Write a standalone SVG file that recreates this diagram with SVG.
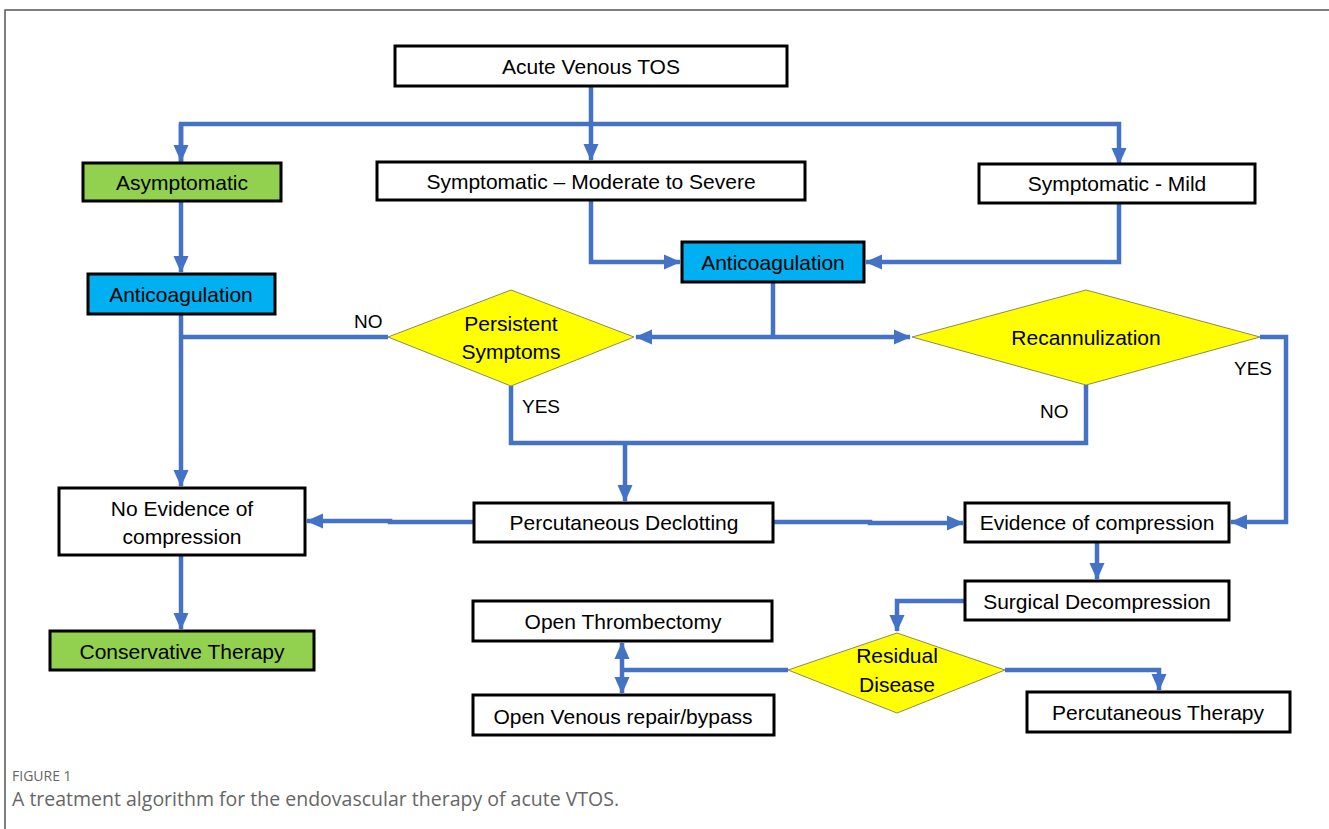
<svg xmlns="http://www.w3.org/2000/svg" width="1329" height="829" viewBox="0 0 1329 829">
<style>
.box{fill:#fff;stroke:#000;stroke-width:3}
.green{fill:#92D050}
.blue{fill:#00B0F0}
.dia{fill:#FFFF00;stroke:#8a8a60;stroke-width:1}
.t{font-family:"Liberation Sans",Arial,sans-serif;font-size:21px;fill:#000;text-anchor:middle}
.lbl{font-family:"Liberation Sans",Arial,sans-serif;font-size:19px;fill:#000}
.c{fill:none;stroke:#4472C4;stroke-width:4.5}
.cap{font-family:"Open Sans",sans-serif;fill:#666}
</style>
<defs>
<marker id="ah" markerUnits="userSpaceOnUse" markerWidth="18" markerHeight="18" viewBox="0 0 18 18" refX="16" refY="9" orient="auto-start-reverse">
<path d="M0,1.5 L17,9 L0,16.5 Z" fill="#4472C4"/>
</marker>
</defs>
<rect width="1329" height="829" fill="#fff"/>
<path d="M5,829 V10 H1329" fill="none" stroke="#555" stroke-width="1.5"/>

<g id="connectors">
<path class="c" d="M591,86 V160" marker-end="url(#ah)"/>
<path class="c" d="M181,163 V124 H1119 V164" marker-end="url(#ah)"/>
<path class="c" d="M181,124 V161" marker-end="url(#ah)"/>
<path class="c" d="M181,201 V272" marker-end="url(#ah)"/>
<path class="c" d="M591,200 V262 H680" marker-end="url(#ah)"/>
<path class="c" d="M1119,203 V262 H866" marker-end="url(#ah)"/>
<path class="c" d="M773,282 V337"/>
<path class="c" d="M773,337 H636" marker-end="url(#ah)"/>
<path class="c" d="M773,337 H910" marker-end="url(#ah)"/>
<path class="c" d="M388,337 H181"/>
<path class="c" d="M181,314 V486" marker-end="url(#ah)"/>
<path class="c" d="M511,386 V443 H1086 V385"/>
<path class="c" d="M625,443 V501" marker-end="url(#ah)"/>
<path class="c" d="M1260,337 H1286 V522 H1231" marker-end="url(#ah)"/>
<path class="c" d="M474,522 H390 V521 H307" marker-end="url(#ah)"/>
<path class="c" d="M773,522 H870 V523 H963" marker-end="url(#ah)"/>
<path class="c" d="M181,555 V629" marker-end="url(#ah)"/>
<path class="c" d="M1097,542 V579" marker-end="url(#ah)"/>
<path class="c" d="M965,601 H897 V631" marker-end="url(#ah)"/>
<path class="c" d="M788,670 H622"/>
<path class="c" d="M622,643 V693" marker-start="url(#ah)" marker-end="url(#ah)"/>
<path class="c" d="M1005,670 H1159 V690" marker-end="url(#ah)"/>
<text class="lbl" x="354" y="328">NO</text>
<text class="lbl" x="522" y="413">YES</text>
<text class="lbl" x="1040" y="418">NO</text>
<text class="lbl" x="1234" y="375">YES</text>
</g>

<g id="acute"><rect class="box" x="395" y="46" width="392" height="40"/><text class="t" x="591" y="74">Acute Venous TOS</text></g>
<g id="asym"><rect class="box green" x="83" y="163" width="198" height="38"/><text class="t" x="182" y="190">Asymptomatic</text></g>
<g id="symmod"><rect class="box" x="377" y="162" width="428" height="38"/><text class="t" x="591" y="189">Symptomatic – Moderate to Severe</text></g>
<g id="symmild"><rect class="box" x="979" y="164" width="276" height="39"/><text class="t" x="1117" y="191">Symptomatic - Mild</text></g>
<g id="anticoag2"><rect class="box blue" x="682" y="242" width="182" height="40"/><text class="t" x="773" y="270">Anticoagulation</text></g>
<g id="anticoag1"><rect class="box blue" x="88" y="274" width="187" height="40"/><text class="t" x="181" y="302">Anticoagulation</text></g>
<g id="persistent"><polygon class="dia" points="511,290 634,337 511,386 388,337"/><text class="t" x="511" y="331">Persistent</text><text class="t" x="511" y="359">Symptoms</text></g>
<g id="recann"><polygon class="dia" points="1086,290 1260,337 1086,385 912,337"/><text class="t" x="1086" y="345">Recannulization</text></g>
<g id="noevid"><rect class="box" x="59" y="488" width="246" height="67"/><text class="t" x="182" y="516">No Evidence of</text><text class="t" x="182" y="544">compression</text></g>
<g id="declot"><rect class="box" x="474" y="503" width="299" height="39"/><text class="t" x="624" y="530">Percutaneous Declotting</text></g>
<g id="evid"><rect class="box" x="965" y="503" width="264" height="39"/><text class="t" x="1097" y="530">Evidence of compression</text></g>
<g id="conserv"><rect class="box green" x="50" y="631" width="264" height="39"/><text class="t" x="182" y="659">Conservative Therapy</text></g>
<g id="surgical"><rect class="box" x="965" y="581" width="264" height="39"/><text class="t" x="1097" y="609">Surgical Decompression</text></g>
<g id="openthromb"><rect class="box" x="473" y="601" width="299" height="40"/><text class="t" x="623" y="629">Open Thrombectomy</text></g>
<g id="openvenous"><rect class="box" x="473" y="695" width="301" height="40"/><text class="t" x="623" y="724">Open Venous repair/bypass</text></g>
<g id="residual"><polygon class="dia" points="897,633 1005,670 897,713 788,670"/><text class="t" x="897" y="663">Residual</text><text class="t" x="897" y="692">Disease</text></g>
<g id="perctherapy"><rect class="box" x="1027" y="692" width="263" height="40"/><text class="t" x="1158" y="720">Percutaneous Therapy</text></g>

<text class="cap" x="12" y="781" font-size="14">FIGURE 1</text>
<text class="cap" x="12" y="806" font-size="19.5">A treatment algorithm for the endovascular therapy of acute VTOS.</text>
</svg>
